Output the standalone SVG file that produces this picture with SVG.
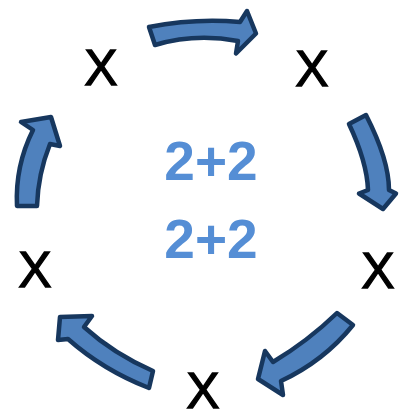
<svg xmlns="http://www.w3.org/2000/svg" width="400" height="414" viewBox="0 0 400 414">
<style>
.arrow{fill:#4F81BD;stroke:#17375E;stroke-width:4.5;stroke-linejoin:round}
.x{font-family:"Liberation Sans",Arial,sans-serif;font-size:50px;fill:#000;stroke:#000;stroke-width:1.3;text-anchor:middle}
.c{font-family:"Liberation Sans",Arial,sans-serif;font-size:55px;font-weight:bold;fill:#558ED5;text-anchor:middle}
</style>
<rect width="400" height="414" fill="#fff"/>
<g id="connectors">
<path class="arrow" d="M149,27 Q195,18 240,22 L247,11 L256,33.5 L236,53.5 L238,41 Q195,33 155,45 Z"/>
<path class="arrow" d="M349,124 L366,115 Q389,160 389,190 L396,193.5 L383,209 L359,193.5 L368,190 Q367,162 349,124 Z"/>
<path class="arrow" d="M337,313 L353,325 Q324,361 281,381 L283,395 L258,379 L265,351 L273,362 Q308,341 337,313 Z"/>
<path class="arrow" d="M60,317 L92,316 L84,327 Q114,354 153,371 L149,388 Q103,370 68,339 L58,340 Z"/>
<path class="arrow" d="M51,117 L60,146 L50,144 Q38,174 37,206 L17,206 Q15,166 33,130 L21,122 Z"/>
</g>
<g id="node-top-left"><text class="x" x="101" y="85">X</text></g>
<g id="node-top-right"><text class="x" x="312" y="86">X</text></g>
<g id="node-right"><text class="x" x="378" y="288">X</text></g>
<g id="node-bottom"><text class="x" x="203" y="408">X</text></g>
<g id="node-left"><text class="x" x="35" y="287">X</text></g>
<g id="center">
<text class="c" x="211" y="180">2+2</text>
<text class="c" x="211" y="258">2+2</text>
</g>
</svg>
